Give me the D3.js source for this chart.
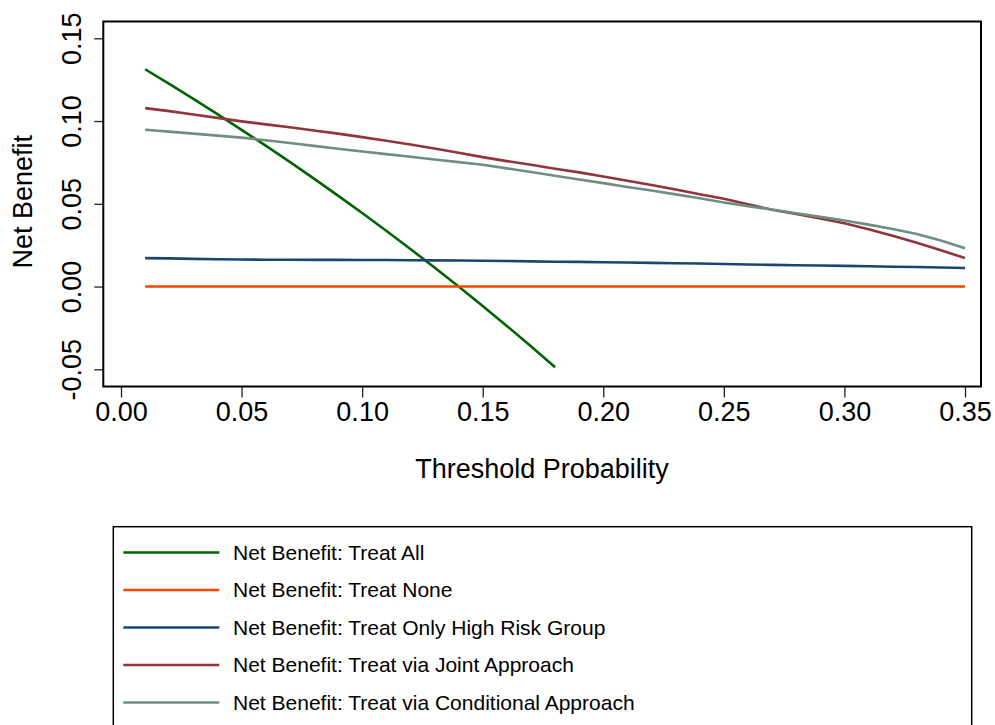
<!DOCTYPE html>
<html>
<head>
<meta charset="utf-8">
<script src="https://cdn.jsdelivr.net/npm/d3@7"></script>
<style>
  body { margin: 0; background: #fff; }
  svg { font-family: "Liberation Sans", Arial, sans-serif; }
</style>
</head>
<body>
<div id="plot"></div>
<script>
// data
var thresholds = [0.01, 0.02, 0.03, 0.04, 0.05, 0.06, 0.07, 0.08, 0.09, 0.10,
    0.11, 0.12, 0.13, 0.14, 0.15, 0.16, 0.17, 0.18, 0.19, 0.20,
    0.21, 0.22, 0.23, 0.24, 0.25, 0.26, 0.27, 0.28, 0.29, 0.30,
    0.31, 0.32, 0.33, 0.34, 0.35];

var treatAll = [0.1313, 0.1224, 0.1134, 0.1042, 0.0947, 0.0851, 0.0753, 0.0652, 0.0549, 0.0444,
    0.0337, 0.0227, 0.0115, 0.0000, -0.0118, -0.0238, -0.0361, -0.0488];

var treatNone = [0, 0, 0, 0, 0, 0, 0, 0, 0, 0, 0, 0, 0, 0, 0, 0, 0, 0,
    0, 0, 0, 0, 0, 0, 0, 0, 0, 0, 0, 0, 0, 0, 0, 0, 0];

var treatHighRisk = [0.0172, 0.0170, 0.0167, 0.0165, 0.0163, 0.0162, 0.0162, 0.0161, 0.0161, 0.0160,
    0.0160, 0.0159, 0.0158, 0.0157, 0.0156, 0.0154, 0.0152, 0.0150, 0.0149, 0.0147,
    0.0145, 0.0143, 0.0141, 0.0139, 0.0136, 0.0133, 0.0131, 0.0129, 0.0127, 0.0125,
    0.0123, 0.0120, 0.0118, 0.0115, 0.0112];

var treatJoint = [0.1078, 0.1060, 0.1040, 0.1019, 0.0998, 0.0980, 0.0962, 0.0943, 0.0924, 0.0903,
    0.0881, 0.0858, 0.0834, 0.0808, 0.0782, 0.0758, 0.0736, 0.0712, 0.0690, 0.0665,
    0.0639, 0.0613, 0.0586, 0.0558, 0.0530, 0.0497, 0.0464, 0.0438, 0.0411, 0.0383,
    0.0346, 0.0307, 0.0264, 0.0219, 0.0172];

var treatConditional = [0.0947, 0.0936, 0.0924, 0.0912, 0.0900, 0.0884, 0.0867, 0.0850, 0.0833, 0.0816,
    0.0800, 0.0784, 0.0768, 0.0752, 0.0736, 0.0714, 0.0692, 0.0669, 0.0647, 0.0625,
    0.0602, 0.0580, 0.0557, 0.0533, 0.0508, 0.0486, 0.0465, 0.0443, 0.0421, 0.0399,
    0.0374, 0.0348, 0.0318, 0.0278, 0.0232];

var xTicks = [0.00, 0.05, 0.10, 0.15, 0.20, 0.25, 0.30, 0.35];
var yTicks = [-0.05, 0.00, 0.05, 0.10, 0.15];

var seriesNames = ["Net Benefit: Treat All", "Net Benefit: Treat None",
    "Net Benefit: Treat Only High Risk Group", "Net Benefit: Treat via Joint Approach",
    "Net Benefit: Treat via Conditional Approach"];
var seriesValues = [treatAll, treatNone, treatHighRisk, treatJoint, treatConditional];
var seriesColors = ["#006400", "#ff4500", "#1a476f", "#90353b", "#6e8e84"];

// layout
var svgWidth = 995, svgHeight = 725;
var margin = { top: 21.5, left: 103.3 };
var width = 877.7, height = 365;

var svg = d3.select("#plot").append("svg")
    .attr("width", svgWidth)
    .attr("height", svgHeight);

var chartGroup = svg.append("g")
    .attr("transform", `translate(${margin.left}, ${margin.top})`);

var xScale = d3.scaleLinear().domain([-0.00734, 0.35664]).range([0, width]);
var yScale = d3.scaleLinear().domain([-0.0604, 0.16015]).range([height, 0]);

var fmt = d => d.toFixed(2);

// axes
var xAxis = chartGroup.append("g")
    .attr("transform", `translate(0, ${height})`)
    .call(d3.axisBottom(xScale).tickValues(xTicks).tickSize(11).tickPadding(4)
        .tickFormat(fmt));
xAxis.select(".domain").remove();
xAxis.selectAll("line").attr("stroke", "#222").attr("stroke-width", 1.3);
xAxis.selectAll("text").attr("font-size", "27px").attr("fill", "#000")
    .attr("font-family", "Liberation Sans, Arial, sans-serif");

var yAxis = chartGroup.append("g")
    .call(d3.axisLeft(yScale).tickValues(yTicks).tickSize(9)
        .tickFormat(fmt));
yAxis.select(".domain").remove();
yAxis.selectAll("line").attr("stroke", "#222").attr("stroke-width", 1.3);
yAxis.selectAll("text")
    .attr("x", 0).attr("y", 0).attr("dy", null)
    .attr("transform", "translate(-22.3, 0) rotate(-90)")
    .attr("text-anchor", "middle")
    .attr("font-size", "27px").attr("fill", "#000")
    .attr("font-family", "Liberation Sans, Arial, sans-serif");

// lines
var line = d3.line()
    .x((d, i) => xScale(thresholds[i]))
    .y(d => yScale(d));

chartGroup.selectAll(".series")
    .data(seriesValues)
    .enter().append("path")
    .attr("class", "series")
    .attr("d", d => line(d))
    .attr("fill", "none")
    .attr("stroke", (d, i) => seriesColors[i])
    .attr("stroke-width", 2.6);

// frame
chartGroup.append("rect")
    .attr("width", width)
    .attr("height", height)
    .attr("fill", "none")
    .attr("stroke", "#000")
    .attr("stroke-width", 2);

// axis titles
svg.append("text")
    .attr("x", 542)
    .attr("y", 478)
    .attr("text-anchor", "middle")
    .attr("font-size", "27px")
    .text("Threshold Probability");

svg.append("text")
    .attr("transform", `translate(32.3, 201.7) rotate(-90)`)
    .attr("text-anchor", "middle")
    .attr("font-size", "27px")
    .text("Net Benefit");

// legend
var legend = svg.append("g");
legend.append("rect")
    .attr("x", 113.3).attr("y", 526.7)
    .attr("width", 858.4).attr("height", 230)
    .attr("fill", "none")
    .attr("stroke", "#000")
    .attr("stroke-width", 1.5);

var legendItems = legend.selectAll(".item")
    .data(seriesNames)
    .enter().append("g")
    .attr("class", "item")
    .attr("transform", (d, i) => `translate(0, ${552.5 + i * 37.5})`);

legendItems.append("line")
    .attr("x1", 123.3).attr("x2", 219.3)
    .attr("stroke", (d, i) => seriesColors[i])
    .attr("stroke-width", 2.6);

legendItems.append("text")
    .attr("x", 233)
    .attr("dy", "0.35em")
    .attr("font-size", "21px")
    .text(d => d);
</script>
</body>
</html>
